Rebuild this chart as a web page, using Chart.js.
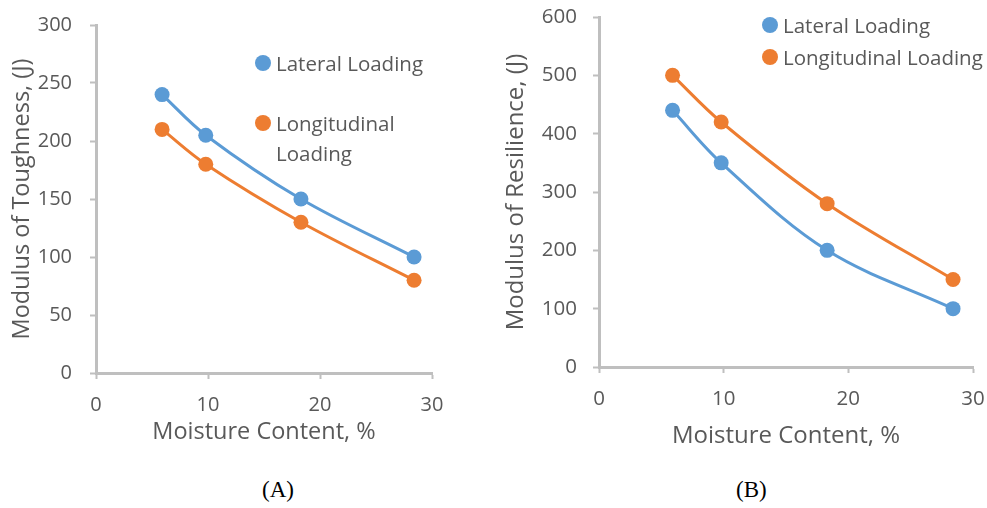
<!DOCTYPE html>
<html>
<head>
<meta charset="utf-8">
<script src="https://cdn.jsdelivr.net/npm/chart.js@4.4.1/dist/chart.umd.min.js"></script>
<style>
  body { margin: 0; width: 987px; height: 508px; background: #fff; position: relative; overflow: hidden; font-family: "Open Sans", sans-serif; color: #595959; }
  canvas { position: absolute; top: 0; }
  #chartA { left: 0; }
  #chartB { left: 490px; }
  .legend { position: absolute; font-size: 20.5px; color: #595959; }
  .item { display: flex; align-items: flex-start; }
  .dot { width: 16px; height: 16px; border-radius: 50%; flex: none; margin-right: 5px; }
  .panel { position: absolute; top: 477px; font-family: "Liberation Serif", "Times New Roman", serif; font-size: 23px; color: #000; }
</style>
</head>
<body>
<canvas id="chartA" width="460" height="450"></canvas>
<canvas id="chartB" width="497" height="460"></canvas>
<div class="legend" id="legendA" style="left:255px; top:48px;"></div>
<div class="legend" id="legendB" style="left:762px; top:9px;"></div>
<div class="panel" style="left:262px;">(A)</div>
<div class="panel" style="left:736px;">(B)</div>

<script>
// Data
const moisture = [5.9, 9.8, 18.3, 28.4];
const seriesNames = ['Lateral Loading', 'Longitudinal Loading'];
const seriesColors = ['#5B9BD5', '#ED7D31'];

const toughLateral = [240, 205, 150, 100];
const toughLongitudinal = [210, 180, 130, 80];

const resilLateral = [440, 350, 200, 100];
const resilLongitudinal = [500, 420, 280, 150];

const xTicks = [0, 10, 20, 30];
const toughTicks = [0, 50, 100, 150, 200, 250, 300];
const resilTicks = [0, 100, 200, 300, 400, 500, 600];

const axisGray = '#BFBFBF';
const textGray = '#595959';
const font = 'Open Sans';

function toPoints(xs, ys) {
  return xs.map((x, i) => ({ x: x, y: ys[i] }));
}

function makeDataset(label, color, values) {
  return {
    label: label,
    data: toPoints(moisture, values),
    showLine: true,
    borderColor: color,
    backgroundColor: color,
    borderWidth: 3,
    pointRadius: 7.5,
    pointBorderWidth: 0,
    pointHoverRadius: 7.5,
    tension: 0.35
  };
}

function makeChart(id, cfg) {
  const ctx = document.getElementById(id);
  return new Chart(ctx, {
    type: 'scatter',
    data: {
      datasets: [
        makeDataset(seriesNames[0], seriesColors[0], cfg.lateral),
        makeDataset(seriesNames[1], seriesColors[1], cfg.longitudinal)
      ]
    },
    options: {
      responsive: false,
      animation: false,
      layout: { padding: cfg.padding },
      plugins: {
        legend: { display: false },
        tooltip: { enabled: false }
      },
      scales: {
        x: {
          type: 'linear',
          min: xTicks[0],
          max: xTicks[xTicks.length - 1],
          afterFit: s => { s.height = cfg.xHeight; s.paddingLeft = 0; s.paddingRight = 0; },
          afterBuildTicks: s => { s.ticks = xTicks.map(v => ({ value: v })); },
          border: { color: axisGray, width: 3 },
          grid: { drawOnChartArea: false, tickLength: 6, tickColor: axisGray, tickWidth: 2 },
          ticks: { color: textGray, font: { family: font, size: cfg.tickSize }, padding: cfg.xTickPad, maxRotation: 0 },
          title: {
            display: true,
            text: 'Moisture Content, %',
            color: textGray,
            font: { family: font, size: cfg.titleSize },
            padding: { top: 0, bottom: cfg.xTitlePad }
          }
        },
        y: {
          type: 'linear',
          min: cfg.yTicks[0],
          max: cfg.yTicks[cfg.yTicks.length - 1],
          afterFit: s => { s.width = cfg.yWidth; s.paddingTop = 0; s.paddingBottom = 0; },
          afterBuildTicks: s => { s.ticks = cfg.yTicks.map(v => ({ value: v })); },
          border: { color: axisGray, width: 3 },
          grid: { drawOnChartArea: false, tickLength: 6, tickColor: axisGray, tickWidth: 2 },
          ticks: { color: textGray, font: { family: font, size: cfg.tickSize }, padding: cfg.yTickPad },
          title: {
            display: true,
            text: cfg.yTitle,
            color: textGray,
            font: { family: font, size: cfg.titleSize },
            padding: { top: cfg.yTitlePad, bottom: 0 }
          }
        }
      }
    }
  });
}

function buildLegend(id, widthLimit, rowHeight, gap) {
  const box = document.getElementById(id);
  box.style.lineHeight = rowHeight + 'px';
  seriesNames.forEach((name, i) => {
    const item = document.createElement('div');
    item.className = 'item';
    if (widthLimit) item.style.width = widthLimit + 'px';
    if (i > 0) item.style.marginTop = gap + 'px';
    const dot = document.createElement('span');
    dot.className = 'dot';
    dot.style.background = seriesColors[i];
    dot.style.marginTop = ((rowHeight - 16) / 2) + 'px';
    const txt = document.createElement('span');
    txt.textContent = name;
    item.appendChild(dot);
    item.appendChild(txt);
    box.appendChild(item);
  });
}

makeChart('chartA', {
  lateral: toughLateral,
  longitudinal: toughLongitudinal,
  yTicks: toughTicks,
  yTitle: 'Modulus of Toughness, (J)',
  padding: { top: 25, right: 28, left: 0, bottom: 0 },
  xHeight: 77,
  yWidth: 96,
  tickSize: 20,
  titleSize: 23.5,
  xTickPad: 14,
  xTitlePad: 4,
  yTickPad: 18,
  yTitlePad: 8
});

makeChart('chartB', {
  lateral: resilLateral,
  longitudinal: resilLongitudinal,
  yTicks: resilTicks,
  yTitle: 'Modulus of Resilience, (J)',
  padding: { top: 17, right: 14, left: 0, bottom: 0 },
  xHeight: 93,
  yWidth: 109,
  tickSize: 20.5,
  titleSize: 24,
  xTickPad: 14,
  xTitlePad: 9,
  yTickPad: 16,
  yTitlePad: 12
});

buildLegend('legendA', 175, 30, 30);
buildLegend('legendB', 0, 32, 0);
</script>
</body>
</html>
